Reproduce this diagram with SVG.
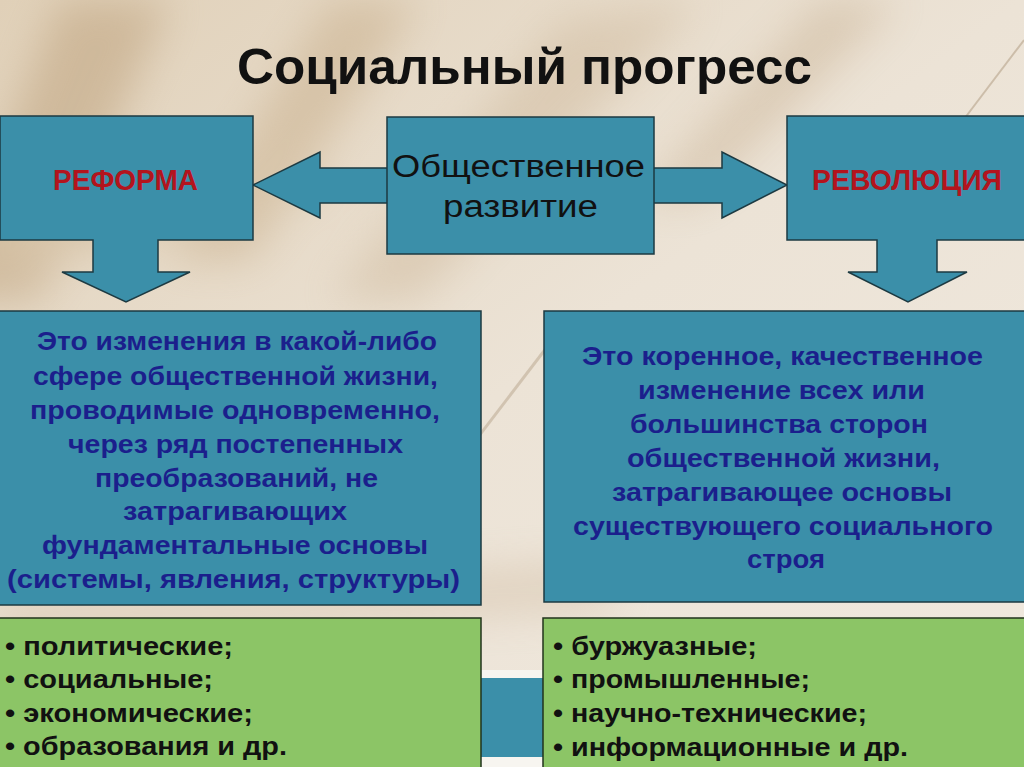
<svg xmlns="http://www.w3.org/2000/svg" width="1024" height="767" viewBox="0 0 1024 767">
<style>
.teal{fill:#3b8fa9;stroke:#1d3a42;stroke-width:1.5}
.green{fill:#8cc566;stroke:#22331c;stroke-width:1.5}
.t{font-family:"Liberation Sans",Arial,sans-serif;font-weight:bold}
.title{font-size:50px;fill:#111}
.red{font-size:30px;fill:#b3141d}
.ctr{font-size:31px;fill:#111;font-weight:normal}
.blue{font-size:26px;fill:#1b1f8c}
.lst{font-size:26px;fill:#111}
</style>
<defs>
<linearGradient id="bg" x1="0" y1="0" x2="1" y2="1">
<stop offset="0" stop-color="#e0d0b8"/>
<stop offset="0.5" stop-color="#ece3d6"/>
<stop offset="1" stop-color="#f0e9df"/>
</linearGradient>
<filter id="blur" x="-50%" y="-50%" width="200%" height="200%"><feGaussianBlur stdDeviation="20"/></filter>
</defs>
<g id="background">
<rect x="0" y="0" width="1024" height="767" fill="url(#bg)"/>
<g filter="url(#blur)" opacity="0.45">
<polygon points="60,0 170,0 40,300 -60,300" fill="#b89a72"/>
<polygon points="330,0 420,0 250,260 170,260" fill="#c4a983"/>
<polygon points="560,20 700,0 420,300 330,300" fill="#cdb79a"/>
<polygon points="820,0 900,0 700,200 640,200" fill="#c8b193"/>
<polygon points="0,200 300,140 320,190 0,270" fill="#c7ad88"/>
<polygon points="0,600 600,560 620,610 0,640" fill="#d2bea4"/>
</g>
<line x1="1024" y1="40" x2="880" y2="230" stroke="#b7a48c" stroke-width="2" opacity="0.6"/>
<line x1="560" y1="330" x2="430" y2="500" stroke="#b7a48c" stroke-width="3" opacity="0.5"/>
<rect x="481" y="670" width="63" height="97" fill="#f7f5f0"/>
<rect x="481" y="678" width="63" height="79" fill="#3b8fa9"/>
</g>
<text class="t title" x="237" y="84" textLength="575" lengthAdjust="spacingAndGlyphs">Социальный прогресс</text>
<g id="connectors">
<polygon class="teal" points="253,185 320,152 320,168 388,168 388,203 320,203 320,218"/>
<polygon class="teal" points="653,168 722,168 722,152 787,185 722,218 722,203 653,203"/>
</g>
<g id="reform">
<path class="teal" d="M0,116 H253 V240 H158 V272 H190 L126,302 L62,272 H93 V240 H0 Z"/>
<text class="t red" x="53" y="190" textLength="145" lengthAdjust="spacingAndGlyphs">РЕФОРМА</text>
</g>
<g id="revolution">
<path class="teal" d="M787,116 H1025 V240 H937 V272 H967 L908,302 L848,272 H877 V240 H787 Z"/>
<text class="t red" x="812" y="190" textLength="190" lengthAdjust="spacingAndGlyphs">РЕВОЛЮЦИЯ</text>
</g>
<g id="development">
<rect class="teal" x="387" y="117" width="267" height="137"/>
<text class="t ctr" x="392" y="177" textLength="253" lengthAdjust="spacingAndGlyphs">Общественное</text>
<text class="t ctr" x="443" y="217" textLength="155" lengthAdjust="spacingAndGlyphs">развитие</text>
</g>
<g id="reform-def">
<rect class="teal" x="-1" y="311" width="482" height="294"/>
<text class="t blue" x="37" y="350" textLength="400" lengthAdjust="spacingAndGlyphs">Это изменения в какой-либо</text>
<text class="t blue" x="33" y="385" textLength="405" lengthAdjust="spacingAndGlyphs">сфере общественной жизни,</text>
<text class="t blue" x="30" y="419" textLength="410" lengthAdjust="spacingAndGlyphs">проводимые одновременно,</text>
<text class="t blue" x="68" y="453" textLength="335" lengthAdjust="spacingAndGlyphs">через ряд постепенных</text>
<text class="t blue" x="95" y="487" textLength="283" lengthAdjust="spacingAndGlyphs">преобразований, не</text>
<text class="t blue" x="123" y="520" textLength="224" lengthAdjust="spacingAndGlyphs">затрагивающих</text>
<text class="t blue" x="42" y="554" textLength="386" lengthAdjust="spacingAndGlyphs">фундаментальные основы</text>
<text class="t blue" x="7" y="588" textLength="453" lengthAdjust="spacingAndGlyphs">(системы, явления, структуры)</text>
</g>
<g id="revolution-def">
<rect class="teal" x="544" y="311" width="481" height="291"/>
<text class="t blue" x="582" y="365" textLength="401" lengthAdjust="spacingAndGlyphs">Это коренное, качественное</text>
<text class="t blue" x="638" y="399" textLength="287" lengthAdjust="spacingAndGlyphs">изменение всех или</text>
<text class="t blue" x="630" y="433" textLength="298" lengthAdjust="spacingAndGlyphs">большинства сторон</text>
<text class="t blue" x="627" y="467" textLength="313" lengthAdjust="spacingAndGlyphs">общественной жизни,</text>
<text class="t blue" x="612" y="501" textLength="340" lengthAdjust="spacingAndGlyphs">затрагивающее основы</text>
<text class="t blue" x="573" y="535" textLength="420" lengthAdjust="spacingAndGlyphs">существующего социального</text>
<text class="t blue" x="747" y="568" textLength="78" lengthAdjust="spacingAndGlyphs">строя</text>
</g>
<g id="reform-types">
<rect class="green" x="-1" y="618" width="482" height="151"/>
<text class="t lst" x="5" y="655" textLength="228" lengthAdjust="spacingAndGlyphs">• политические;</text>
<text class="t lst" x="5" y="688" textLength="208" lengthAdjust="spacingAndGlyphs">• социальные;</text>
<text class="t lst" x="5" y="722" textLength="248" lengthAdjust="spacingAndGlyphs">• экономические;</text>
<text class="t lst" x="5" y="755" textLength="282" lengthAdjust="spacingAndGlyphs">• образования и др.</text>
</g>
<g id="revolution-types">
<rect class="green" x="543" y="618" width="482" height="151"/>
<text class="t lst" x="553" y="655" textLength="204" lengthAdjust="spacingAndGlyphs">• буржуазные;</text>
<text class="t lst" x="553" y="688" textLength="257" lengthAdjust="spacingAndGlyphs">• промышленные;</text>
<text class="t lst" x="553" y="722" textLength="314" lengthAdjust="spacingAndGlyphs">• научно-технические;</text>
<text class="t lst" x="553" y="756" textLength="355" lengthAdjust="spacingAndGlyphs">• информационные и др.</text>
</g>
</svg>
